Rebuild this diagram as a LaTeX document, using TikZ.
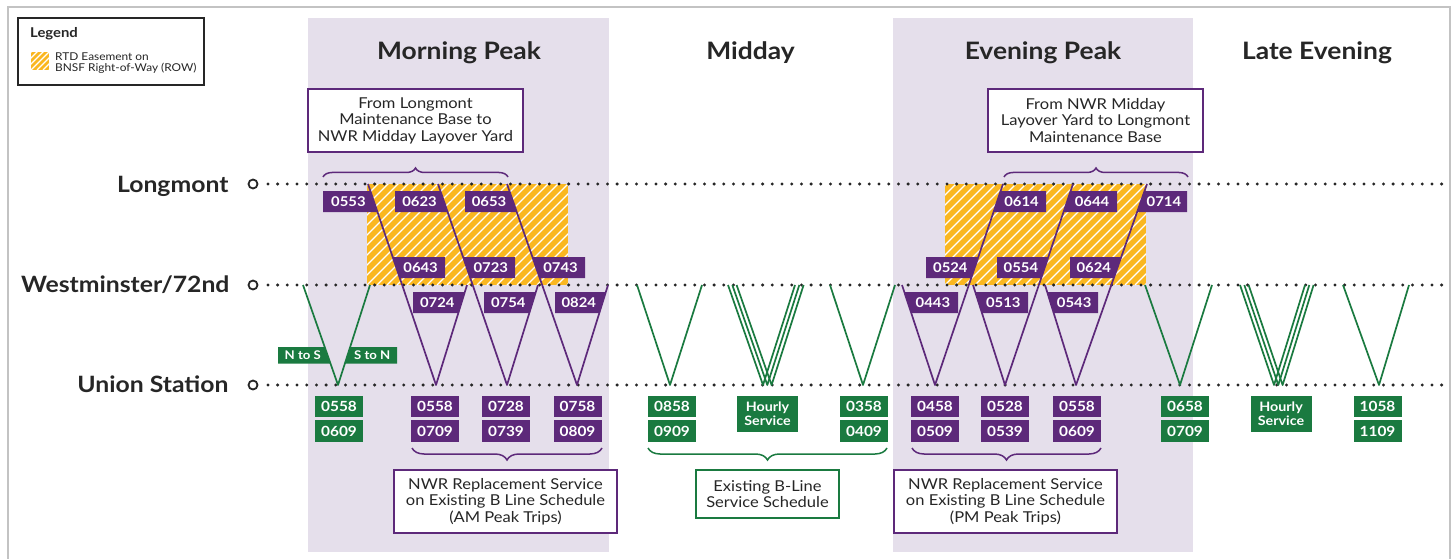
\documentclass[tikz,border=0pt]{standalone}
\usepackage{fontspec}
\setmainfont{Lato}[FakeStretch=1.1]
\usetikzlibrary{calc,decorations.pathreplacing}

\definecolor{rtdpurple}{RGB}{93,41,122}
\definecolor{rtdgreen}{RGB}{26,122,64}
\definecolor{rowyellow}{RGB}{250,183,32}
\definecolor{peakbg}{RGB}{229,223,235}
\definecolor{inkgray}{RGB}{38,38,38}
\definecolor{framegray}{RGB}{195,195,195}

\tikzset{
  pline/.style={rtdpurple, line width=1.7pt, line join=round},
  gline/.style={rtdgreen, line width=1.7pt, line join=round},
  stopline/.style={inkgray, line width=3.3pt, line cap=round, dash pattern=on 0pt off 9.7pt},
  stopmark/.style={circle, draw=inkgray, line width=1.8pt, minimum size=9pt, inner sep=0pt},
  stationname/.style={anchor=base east, text=inkgray, font=\bfseries\fontsize{22.5}{24}\selectfont},
  periodtitle/.style={anchor=base, text=inkgray, font=\bfseries\fontsize{24}{26}\selectfont},
  tagtext/.style={text=white, inner sep=0pt},
  timebox/.style={fill=#1, text=white, minimum width=48pt, minimum height=21.5pt, inner sep=0pt,
    font=\bfseries\fontsize{14}{15}\selectfont},
  hourbox/.style={fill=rtdgreen, text=white, minimum width=61pt, minimum height=36pt, inner sep=0pt,
    align=center, font=\bfseries\fontsize{13}{14}\selectfont},
  infobox/.style={draw=#1, line width=1.5pt, fill=white, text=inkgray, align=center, inner sep=0pt,
    font=\fontsize{15}{16.5}\selectfont},
  bracket/.style={decorate, decoration={brace, amplitude=#1}, line width=1.5pt},
}

% Tag with a vertical left edge at #4 and its right edge lying on the line (#6,#7)--(#8,#9)
\def\tagh{21}
\def\tagfont{\bfseries\fontsize{13.5}{14}\selectfont}
\newcommand\tagright[9]{%
  \pgfmathsetmacro\tgxa{#6+(#5-#7)*(#8-#6)/(#9-#7)}%
  \pgfmathsetmacro\tgxb{#6+(#5+\tagh-#7)*(#8-#6)/(#9-#7)}%
  \fill[#2] (#4,#5) -- (\tgxa,#5) -- (\tgxb,#5+\tagh) -- (#4,#5+\tagh) -- cycle;
  \node[tagtext, font=\tagfont] (#1) at ({(2*#4+\tgxa+\tgxb)/4},{#5+\tagh/2}) {#3};
}
% Tag with a vertical right edge at #4 and its left edge lying on the line
\newcommand\tagleft[9]{%
  \pgfmathsetmacro\tgxa{#6+(#5-#7)*(#8-#6)/(#9-#7)}%
  \pgfmathsetmacro\tgxb{#6+(#5+\tagh-#7)*(#8-#6)/(#9-#7)}%
  \fill[#2] (\tgxa,#5) -- (#4,#5) -- (#4,#5+\tagh) -- (\tgxb,#5+\tagh) -- cycle;
  \node[tagtext, font=\tagfont] (#1) at ({(2*#4+\tgxa+\tgxb)/4},{#5+\tagh/2}) {#3};
}
% Yellow easement block with white diagonal hatching
\newcommand\easement[5]{%
  \begin{scope}
    \clip (#1,#2) rectangle (#3,#4);
    \fill[rowyellow] (#1,#2) rectangle (#3,#4);
    \foreach \k in {-150,-140,...,260}
      \draw[white, line width=1.1pt] ({#1+\k*#5/10},#4) -- ++(150,-150);
  \end{scope}
}

\begin{document}
\begin{tikzpicture}[x=1pt, y=-1pt]
\useasboundingbox (0,0) rectangle (1454,559);
\fill[white] (0,0) rectangle (1454,559);
\draw[framegray, line width=1.5pt] (8,7) rectangle (1450,575);

% peak-period columns
\fill[peakbg] (308,18) rectangle (609,552);
\fill[peakbg] (893,18) rectangle (1193,552);

\node[periodtitle] (tam)  at (459,60)    {Morning Peak};
\node[periodtitle] (tmid) at (750.5,60)  {Midday};
\node[periodtitle] (tpm)  at (1043,60)   {Evening Peak};
\node[periodtitle] (tlate) at (1317,60)  {Late Evening};

% RTD easement on BNSF right-of-way
\easement{367}{184}{568}{285}{10}
\easement{945}{184}{1146}{285}{10}

% stations
\node[stopmark] (lgm) at (253,184) {};
\node[stopmark] (wst) at (253,285) {};
\node[stopmark] (uns) at (253,385) {};
\node[stationname] (lgmname) at (232,192) {Longmont};
\node[stationname] (wstname) at (233,292) {Westminster/72nd};
\node[stationname] (unsname) at (232,392) {Union Station};
\coordinate (lgmend) at (1446,184);
\coordinate (wstend) at (1446,285);
\coordinate (unsend) at (1446,385);
\draw[stopline] ([xshift=9.5pt]lgm.east) -- (lgmend);
\draw[stopline] ([xshift=9.5pt]wst.east) -- (wstend);
\draw[stopline] ([xshift=9.5pt]uns.east) -- (unsend);

% morning peak trips: Longmont -> Union Station -> Westminster
\coordinate (mL1) at (368,184); \coordinate (mU1) at (436,385); \coordinate (mW1) at (467,285);
\coordinate (mL2) at (438,184); \coordinate (mU2) at (507,385); \coordinate (mW2) at (538,285);
\coordinate (mL3) at (507,184); \coordinate (mU3) at (577,385); \coordinate (mW3) at (608,285);
\draw[pline] (mL1) -- (mU1) -- (mW1);
\draw[pline] (mL2) -- (mU2) -- (mW2);
\draw[pline] (mL3) -- (mU3) -- (mW3);

% existing B-Line round trips
\coordinate (g0a) at (303,285); \coordinate (g0b) at (338,385); \coordinate (g0c) at (370,285);
\draw[gline] (g0a) -- (g0b) -- (g0c);
\coordinate (g1a) at (637,285); \coordinate (g1b) at (670,385); \coordinate (g1c) at (702,285);
\draw[gline] (g1a) -- (g1b) -- (g1c);
\foreach \d in {0,4.3,8.6}
  \draw[gline] (728+\d,285) -- (763+\d,385) -- (795+\d,285);
\coordinate (g3a) at (830,285); \coordinate (g3b) at (863,385); \coordinate (g3c) at (895,285);
\draw[gline] (g3a) -- (g3b) -- (g3c);
\coordinate (g4a) at (1145,285); \coordinate (g4b) at (1180,385); \coordinate (g4c) at (1212,285);
\draw[gline] (g4a) -- (g4b) -- (g4c);
\foreach \d in {0,4.3,8.6}
  \draw[gline] (1240+\d,285) -- (1274+\d,385) -- (1305+\d,285);
\coordinate (g6a) at (1343,285); \coordinate (g6b) at (1379,385); \coordinate (g6c) at (1409,285);
\draw[gline] (g6a) -- (g6b) -- (g6c);

% evening peak trips: Westminster -> Union Station -> Longmont
\coordinate (eW1) at (902,285);  \coordinate (eU1) at (935,385);  \coordinate (eL1) at (1003,184);
\coordinate (eW2) at (973,285);  \coordinate (eU2) at (1005,385); \coordinate (eL2) at (1073,184);
\coordinate (eW3) at (1045,285); \coordinate (eU3) at (1076,385); \coordinate (eL3) at (1147,184);
\draw[pline] (eW1) -- (eU1) -- (eL1);
\draw[pline] (eW2) -- (eU2) -- (eL2);
\draw[pline] (eW3) -- (eU3) -- (eL3);

% departure tags, morning
\tagright{t0553}{rtdpurple}{0553}{323}{191}{368}{184}{436}{385}
\tagright{t0623}{rtdpurple}{0623}{395}{191}{438}{184}{507}{385}
\tagright{t0653}{rtdpurple}{0653}{465}{191}{507}{184}{577}{385}
\tagleft{t0643}{rtdpurple}{0643}{445}{257}{368}{184}{436}{385}
\tagleft{t0723}{rtdpurple}{0723}{515}{257}{438}{184}{507}{385}
\tagleft{t0743}{rtdpurple}{0743}{585}{257}{507}{184}{577}{385}
\tagright{t0724}{rtdpurple}{0724}{413}{292}{436}{385}{467}{285}
\tagright{t0754}{rtdpurple}{0754}{484}{292}{507}{385}{538}{285}
\tagright{t0824}{rtdpurple}{0824}{555}{292}{577}{385}{608}{285}

% departure tags, evening
\tagleft{t0443}{rtdpurple}{0443}{958}{292}{902}{285}{935}{385}
\tagleft{t0513}{rtdpurple}{0513}{1028}{292}{973}{285}{1005}{385}
\tagleft{t0543}{rtdpurple}{0543}{1098}{292}{1045}{285}{1076}{385}
\tagright{t0524}{rtdpurple}{0524}{926}{257}{935}{385}{1003}{184}
\tagright{t0554}{rtdpurple}{0554}{997}{257}{1005}{385}{1073}{184}
\tagright{t0624}{rtdpurple}{0624}{1070}{257}{1076}{385}{1147}{184}
\tagleft{t0614}{rtdpurple}{0614}{1046}{191}{935}{385}{1003}{184}
\tagleft{t0644}{rtdpurple}{0644}{1117}{191}{1005}{385}{1073}{184}
\tagleft{t0714}{rtdpurple}{0714}{1187}{191}{1076}{385}{1147}{184}

% direction tags
\def\tagh{16.5}
\def\tagfont{\bfseries\fontsize{12}{13}\selectfont}
\tagright{tns}{rtdgreen}{N to S}{278}{347}{303}{285}{338}{385}
\tagleft{tsn}{rtdgreen}{S to N}{397}{347}{338}{385}{370}{285}

% Union Station departures
\node[timebox=rtdgreen]  (u0558g) at (339,406.5)  {0558};
\node[timebox=rtdgreen]  (u0609g) at (339,431)    {0609};
\node[timebox=rtdpurple] (u0558)  at (435,406.5)  {0558};
\node[timebox=rtdpurple] (u0709)  at (435,431)    {0709};
\node[timebox=rtdpurple] (u0728)  at (506,406.5)  {0728};
\node[timebox=rtdpurple] (u0739)  at (506,431)    {0739};
\node[timebox=rtdpurple] (u0758)  at (577.5,406.5) {0758};
\node[timebox=rtdpurple] (u0809)  at (577.5,431)  {0809};
\node[timebox=rtdgreen]  (u0858)  at (672,406.5)  {0858};
\node[timebox=rtdgreen]  (u0909)  at (672,431)    {0909};
\node[hourbox]           (uhr1)   at (767.5,414)  {Hourly\\Service};
\node[timebox=rtdgreen]  (u0358)  at (864,406.5)  {0358};
\node[timebox=rtdgreen]  (u0409)  at (864,431)    {0409};
\node[timebox=rtdpurple] (u0458)  at (935,406.5)  {0458};
\node[timebox=rtdpurple] (u0509)  at (935,431)    {0509};
\node[timebox=rtdpurple] (u0528)  at (1005,406.5) {0528};
\node[timebox=rtdpurple] (u0539)  at (1005,431)   {0539};
\node[timebox=rtdpurple] (u0558p) at (1077,406.5) {0558};
\node[timebox=rtdpurple] (u0609p) at (1077,431)   {0609};
\node[timebox=rtdgreen]  (u0658)  at (1185,406.5) {0658};
\node[timebox=rtdgreen]  (u0709g) at (1185,431)   {0709};
\node[hourbox]           (uhr2)   at (1281,414)   {Hourly\\Service};
\node[timebox=rtdgreen]  (u1058)  at (1377.5,406.5) {1058};
\node[timebox=rtdgreen]  (u1109)  at (1377.5,431) {1109};

% explanatory boxes and their braces
\node[infobox=rtdpurple, minimum width=215pt, minimum height=63pt] (amsrc) at (415.5,120.5)
  {From Longmont\\Maintenance Base to\\NWR Midday Layover Yard};
\node[infobox=rtdpurple, minimum width=215pt, minimum height=63pt] (pmsrc) at (1095.5,120.5)
  {From NWR Midday\\Layover Yard to Longmont\\Maintenance Base};
\node[infobox=rtdpurple, minimum width=223pt, minimum height=63pt] (amrep) at (505.5,501.5)
  {NWR Replacement Service\\on Existing B Line Schedule\\(AM Peak Trips)};
\node[infobox=rtdgreen, minimum width=143pt, minimum height=48pt] (blsched) at (767.5,494)
  {Existing B-Line\\Service Schedule};
\node[infobox=rtdpurple, minimum width=223pt, minimum height=63pt] (pmrep) at (1005.5,501.5)
  {NWR Replacement Service\\on Existing B Line Schedule\\(PM Peak Trips)};

\coordinate (bamL) at (323,177);  \coordinate (bamR) at (508,177);
\coordinate (bpmL) at (1004,177); \coordinate (bpmR) at (1188,177);
\draw[bracket=9pt, rtdpurple] (bamL) -- (bamR);
\draw[bracket=9pt, rtdpurple] (bpmL) -- (bpmR);
\coordinate (brAL) at (412,448); \coordinate (brAR) at (602,448);
\coordinate (brGL) at (648,448); \coordinate (brGR) at (887,448);
\coordinate (brPL) at (912,448); \coordinate (brPR) at (1101,448);
\draw[bracket=12pt, rtdpurple] (brAR) -- (brAL);
\draw[bracket=12pt, rtdgreen]  (brGR) -- (brGL);
\draw[bracket=12pt, rtdpurple] (brPR) -- (brPL);

% legend
\draw[inkgray, line width=1.5pt, fill=white] (18,18) rectangle (204,85);
\node[anchor=base west, text=inkgray, inner sep=0pt, font=\bfseries\fontsize{13.5}{15}\selectfont]
  (legtitle) at (30,38) {Legend};
\easement{31}{52}{49}{70}{6}
\node[anchor=north west, text=inkgray, inner sep=0pt, align=left, font=\fontsize{10.8}{10.5}\selectfont]
  (legtext) at (55,53) {RTD Easement on\\BNSF Right-of-Way (ROW)};
\end{tikzpicture}
\end{document}
